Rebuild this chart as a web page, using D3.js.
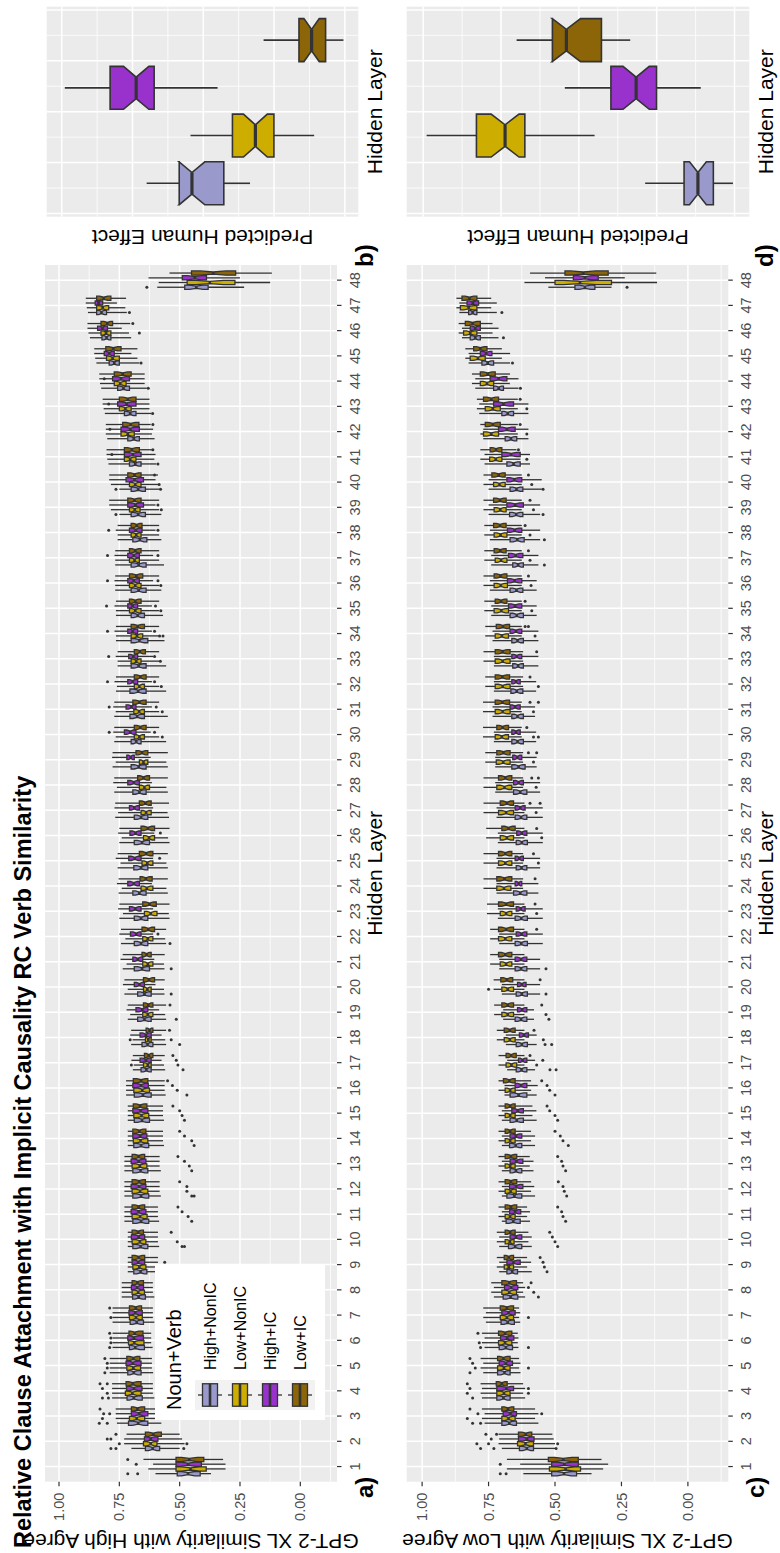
<!DOCTYPE html>
<html><head><meta charset="utf-8">
<script src="https://cdn.jsdelivr.net/npm/d3@7"></script>
<style>body{margin:0;background:#fff} text{font-family:"Liberation Sans",Arial,Helvetica,sans-serif}</style>
</head><body>
<script>
// ---------------- DATA ----------------
const layers = [1,2,3,4,5,6,7,8,9,10,11,12,13,14,15,16,17,18,19,20,21,22,23,24,25,26,27,28,29,30,31,32,33,34,35,36,37,38,39,40,41,42,43,44,45,46,47,48];
const groups = ["High+NonIC","Low+NonIC","High+IC","Low+IC"];
const valueBreaks = [0, 0.25, 0.5, 0.75, 1];
const valueTickLabels = ["0.00","0.25","0.50","0.75","1.00"];
const valueMinorBreaks = [-0.125, 0.125, 0.375, 0.625, 0.875];
const title = "Relative Clause Attachment with Implicit Causality RC Verb Similarity";
const legendTitle = "Noun+Verb";
const xTitle = "Hidden Layer";
const aYTitle = "GPT-2 XL Similarity with High Agree";
const cYTitle = "GPT-2 XL Similarity with Low Agree";
const bdYTitle = "Predicted Human Effect";
const panelTags = ["a)","b)","c)","d)"];

// Panel a (High Agree): per group q3, q1, median, upper whisker, lower whisker by layer
const a_HighNonIC_q3 = [.510,.642,.712,.718,.715,.708,.705,.695,.690,.694,.694,.694,.694,.690,.688,.688,.660,.656,.674,.674,.688,.688,.688,.694,.690,.688,.688,.694,.701,.701,.706,.706,.701,.701,.701,.701,.701,.694,.701,.701,.708,.715,.729,.757,.792,.822,.844,.479];
const a_HighNonIC_q1 = [.415,.583,.632,.655,.660,.646,.650,.642,.636,.632,.628,.628,.632,.628,.625,.618,.618,.611,.618,.618,.625,.632,.632,.639,.632,.625,.632,.639,.639,.660,.646,.639,.639,.632,.646,.639,.639,.636,.642,.642,.660,.667,.681,.708,.750,.785,.803,.382];
const a_HighNonIC_med = [.465,.612,.672,.690,.690,.684,.678,.670,.662,.662,.660,.660,.662,.660,.656,.652,.638,.633,.646,.646,.656,.660,.660,.667,.660,.656,.660,.667,.670,.680,.676,.672,.670,.667,.674,.670,.670,.665,.672,.672,.684,.690,.705,.733,.771,.803,.824,.431];
const a_HighNonIC_hi = [.600,.700,.760,.780,.790,.778,.778,.740,.715,.715,.729,.729,.729,.715,.715,.722,.694,.701,.715,.729,.736,.743,.750,.753,.757,.750,.767,.771,.778,.771,.771,.764,.757,.764,.764,.767,.767,.757,.750,.750,.795,.800,.810,.825,.845,.872,.880,.593];
const a_HighNonIC_lo = [.370,.500,.576,.605,.610,.612,.605,.605,.585,.585,.585,.578,.578,.565,.565,.558,.560,.556,.556,.563,.563,.556,.542,.549,.549,.542,.544,.549,.549,.556,.549,.556,.556,.563,.569,.576,.565,.576,.576,.583,.597,.604,.618,.636,.667,.701,.719,.233];

const a_LowNonIC_q3 = [.515,.650,.708,.725,.719,.712,.708,.697,.694,.697,.697,.697,.697,.692,.690,.690,.650,.642,.653,.650,.653,.653,.646,.660,.656,.650,.660,.667,.667,.688,.690,.688,.701,.701,.708,.708,.708,.701,.708,.708,.729,.743,.750,.771,.803,.826,.844,.469];
const a_LowNonIC_q1 = [.390,.594,.645,.660,.662,.648,.655,.646,.640,.640,.635,.632,.636,.632,.628,.625,.618,.618,.611,.618,.611,.611,.594,.611,.611,.604,.618,.625,.632,.646,.646,.646,.660,.653,.660,.660,.667,.660,.664,.660,.681,.688,.701,.722,.750,.785,.794,.271];
const a_LowNonIC_med = [.455,.620,.678,.696,.692,.688,.681,.672,.667,.665,.664,.664,.665,.662,.658,.655,.632,.630,.632,.634,.632,.632,.620,.636,.634,.627,.639,.646,.650,.667,.668,.667,.680,.677,.684,.684,.687,.680,.686,.684,.705,.715,.725,.746,.778,.805,.819,.375];
const a_LowNonIC_hi = [.630,.730,.765,.780,.790,.778,.778,.740,.715,.715,.729,.729,.729,.715,.715,.722,.690,.695,.705,.715,.720,.725,.735,.740,.745,.740,.755,.760,.765,.765,.765,.760,.757,.764,.764,.767,.767,.757,.785,.785,.800,.806,.815,.830,.850,.878,.885,.587];
const a_LowNonIC_lo = [.310,.480,.585,.611,.615,.618,.611,.611,.590,.590,.590,.583,.583,.569,.569,.562,.565,.560,.560,.565,.565,.560,.545,.555,.555,.548,.550,.555,.555,.585,.585,.585,.585,.585,.585,.585,.585,.585,.585,.590,.605,.615,.625,.645,.675,.710,.725,.125];

const a_HighIC_q3 = [.515,.646,.700,.720,.722,.715,.710,.700,.697,.700,.701,.701,.701,.694,.694,.694,.664,.664,.681,.688,.694,.704,.708,.715,.711,.706,.708,.715,.719,.729,.722,.715,.711,.715,.715,.715,.715,.708,.715,.722,.729,.743,.757,.778,.8125,.840,.850,.489];
const a_HighIC_q1 = [.410,.590,.632,.656,.660,.650,.655,.650,.645,.645,.640,.640,.640,.636,.632,.630,.618,.618,.632,.646,.653,.660,.660,.667,.660,.660,.667,.667,.688,.681,.681,.674,.674,.674,.674,.667,.667,.656,.650,.650,.660,.667,.681,.708,.771,.799,.819,.389];
const a_HighIC_med = [.465,.620,.668,.690,.694,.690,.684,.676,.672,.670,.670,.668,.670,.664,.662,.660,.640,.640,.655,.667,.674,.680,.684,.690,.686,.683,.688,.690,.703,.705,.700,.695,.692,.695,.695,.690,.690,.682,.683,.687,.694,.705,.720,.743,.792,.820,.836,.4375];
const a_HighIC_hi = [.610,.730,.765,.780,.790,.778,.778,.740,.715,.715,.729,.729,.729,.715,.715,.722,.700,.705,.720,.735,.745,.750,.755,.760,.765,.755,.770,.775,.780,.775,.775,.770,.765,.770,.770,.770,.770,.765,.792,.792,.803,.806,.819,.833,.854,.882,.889,.629];
const a_HighIC_lo = [.310,.490,.585,.611,.615,.618,.611,.611,.590,.590,.590,.583,.583,.569,.569,.562,.575,.575,.585,.600,.605,.610,.610,.615,.610,.605,.610,.615,.620,.620,.615,.615,.610,.615,.615,.610,.610,.600,.600,.600,.600,.610,.625,.645,.700,.740,.760,.250];

const a_LowIC_q3 = [.515,.642,.700,.722,.719,.710,.708,.697,.697,.697,.697,.697,.697,.694,.692,.692,.646,.639,.650,.650,.656,.656,.653,.664,.667,.660,.667,.674,.681,.688,.694,.688,.688,.701,.708,.708,.708,.701,.715,.715,.729,.736,.750,.771,.806,.826,.844,.451];
const a_LowIC_q1 = [.400,.576,.645,.660,.665,.652,.658,.650,.645,.650,.645,.642,.645,.640,.636,.632,.611,.611,.611,.604,.618,.604,.597,.614,.611,.604,.618,.625,.632,.639,.639,.639,.642,.646,.660,.653,.660,.656,.660,.660,.667,.669,.681,.701,.743,.778,.785,.268];
const a_LowIC_med = [.460,.610,.675,.694,.692,.686,.682,.675,.670,.672,.670,.668,.670,.667,.664,.660,.628,.625,.630,.627,.637,.630,.625,.640,.639,.632,.642,.650,.656,.663,.667,.663,.665,.674,.684,.680,.684,.678,.687,.687,.698,.703,.715,.736,.775,.800,.815,.361];
const a_LowIC_hi = [.650,.720,.765,.780,.790,.778,.778,.740,.715,.715,.729,.729,.729,.715,.715,.722,.694,.701,.715,.729,.736,.743,.750,.753,.757,.750,.767,.771,.778,.771,.771,.764,.757,.764,.764,.767,.767,.757,.792,.792,.803,.806,.819,.833,.854,.882,.889,.542];
const a_LowIC_lo = [.320,.500,.585,.611,.615,.618,.611,.611,.590,.590,.590,.583,.583,.569,.569,.562,.562,.556,.556,.562,.562,.556,.542,.549,.549,.542,.544,.549,.549,.585,.585,.585,.585,.585,.585,.585,.585,.585,.585,.590,.615,.620,.625,.645,.675,.705,.722,.118];

// outliers: [layer, group index, value]
const a_outliers = [[1,3,.715],[1,2,.68],[1,0,.715],[1,0,.674],
 [2,3,.764],[2,2,.80],[2,2,.785],[2,1,.75],[2,0,.785],[2,0,.764],[2,1,.47],[2,0,.483],
 [3,3,.83],[3,2,.815],[3,2,.79],[3,1,.82],[3,0,.833],[3,0,.80],
 [4,3,.83],[4,3,.80],[4,2,.82],[4,1,.80],[4,0,.82],[4,0,.795],
 [5,3,.81],[5,2,.80],[5,1,.80],[5,0,.81],[6,3,.79],[6,2,.785],[6,1,.785],[6,0,.79],[7,3,.79],[7,1,.785],
 [9,2,.562],[9,0,.528],[10,3,.535],[10,1,.51],[10,0,.48],[10,0,.49],
 [11,3,.507],[11,2,.49],[11,1,.465],[11,0,.45],[12,3,.50],[12,2,.47],[12,1,.47],[12,0,.44],[12,0,.45],
 [13,3,.507],[13,2,.48],[13,1,.46],[13,0,.45],[14,3,.50],[14,2,.48],[14,1,.45],[14,0,.44],
 [15,3,.528],[15,2,.50],[15,1,.49],[15,0,.48],[16,3,.55],[16,2,.53],[16,1,.51],[16,0,.47],
 [17,3,.528],[17,2,.514],[17,1,.507],[17,0,.486],[17,1,.70],[18,3,.542],[18,1,.535],[18,0,.50],[18,1,.705],
 [19,3,.54],[19,0,.514],[20,0,.535],[21,0,.535],[22,2,.59],[22,0,.54],[25,2,.583],[26,2,.58],
 [30,2,.792],[30,2,.604],[30,1,.572],[31,2,.792],[31,2,.597],[31,1,.572],[32,2,.799],[32,2,.604],[32,1,.576],
 [33,2,.794],[33,2,.604],[33,1,.58],[34,2,.799],[34,2,.604],[34,1,.583],[34,1,.569],
 [35,2,.803],[35,2,.60],[35,1,.578],[36,2,.799],[36,2,.59],[36,1,.578],[37,2,.799],[37,2,.59],
 [38,2,.794],[38,2,.59],[39,0,.764],[39,2,.59],[39,1,.576],[40,0,.764],[40,3,.604],[40,1,.585],[40,0,.579],
 [41,2,.781],[41,3,.611],[41,0,.59],[42,2,.789],[42,3,.611],[43,2,.794],[43,0,.612],[44,2,.8125],[44,0,.63],
 [45,0,.66],[46,3,.694],[46,1,.667],[47,0,.708],[48,0,.636]];

// Panel c (Low Agree)
const c_HighNonIC_q3 = [.5125,.634,.700,.719,.716,.710,.703,.695,.681,.675,.684,.681,.669,.671,.669,.669,.646,.646,.650,.646,.650,.650,.650,.656,.646,.646,.650,.656,.6625,.6625,.6625,.666,.659,.6625,.669,.669,.659,.669,.671,.669,.681,.6875,.700,.731,.775,.819,.825,.425];
const c_HighNonIC_q1 = [.419,.581,.645,.669,.669,.660,.653,.640,.641,.625,.631,.625,.625,.625,.619,.606,.606,.604,.606,.604,.606,.604,.604,.606,.606,.604,.606,.606,.6125,.619,.619,.621,.619,.619,.619,.621,.619,.616,.621,.621,.631,.644,.656,.694,.731,.781,.794,.350];
const c_HighNonIC_med = [.466,.606,.672,.694,.690,.685,.678,.667,.661,.650,.657,.653,.647,.648,.644,.637,.626,.625,.628,.625,.628,.627,.627,.631,.626,.625,.628,.631,.637,.641,.641,.644,.639,.641,.644,.645,.639,.642,.646,.645,.656,.666,.678,.712,.753,.800,.810,.3875];
const c_HighNonIC_hi = [.619,.700,.765,.775,.770,.765,.760,.730,.710,.710,.700,.700,.700,.700,.700,.690,.680,.685,.695,.700,.710,.710,.715,.720,.720,.715,.720,.725,.725,.730,.735,.730,.730,.735,.740,.745,.740,.745,.750,.750,.765,.770,.785,.800,.825,.850,.860,.525];
const c_HighNonIC_lo = [.3625,.500,.5625,.6125,.630,.6375,.631,.6125,.5875,.5875,.594,.575,.581,.575,.569,.569,.575,.569,.579,.556,.556,.546,.546,.5625,.556,.546,.546,.556,.569,.571,.575,.571,.5625,.5625,.569,.569,.5625,.556,.556,.550,.594,.600,.600,.6375,.669,.7125,.719,.2875];

const c_LowNonIC_q3 = [.521,.641,.700,.719,.716,.7125,.706,.700,.691,.6875,.6875,.6875,.6875,.6875,.6875,.6875,.684,.691,.700,.700,.706,.7125,.706,.719,.7125,.706,.7125,.719,.721,.725,.725,.725,.725,.725,.729,.729,.725,.729,.729,.731,.746,.769,.7625,.781,.819,.844,.856,.500];
const c_LowNonIC_q1 = [.404,.581,.650,.669,.669,.6625,.656,.645,.656,.654,.650,.646,.650,.650,.650,.650,.644,.650,.656,.656,.6625,.6625,.6625,.666,.6625,.656,.656,.6625,.669,.675,.669,.669,.669,.675,.675,.679,.681,.681,.684,.6875,.700,.7125,.706,.731,.7625,.794,.794,.2875];
const c_LowNonIC_med = [.460,.611,.675,.692,.692,.688,.681,.672,.674,.670,.669,.667,.669,.669,.669,.669,.664,.670,.678,.678,.684,.687,.684,.692,.687,.681,.684,.690,.695,.700,.697,.697,.697,.700,.702,.704,.703,.705,.706,.709,.723,.740,.734,.756,.790,.819,.825,.406];
const c_LowNonIC_hi = [.681,.7125,.775,.780,.780,.775,.770,.740,.719,.719,.7125,.7125,.7125,.7125,.7125,.7125,.7125,.719,.729,.731,.744,.744,.756,.769,.769,.759,.769,.769,.7625,.771,.771,.7625,.769,.7625,.766,.769,.766,.766,.769,.769,.781,.781,.794,.8125,.8375,.8625,.871,.615];
const c_LowNonIC_lo = [.319,.500,.575,.620,.635,.640,.635,.620,.605,.600,.605,.590,.595,.590,.585,.590,.615,.615,.615,.615,.615,.615,.615,.620,.620,.615,.615,.620,.620,.625,.625,.620,.620,.625,.625,.625,.625,.625,.625,.625,.630,.640,.640,.670,.700,.735,.740,.116];

const c_HighIC_q3 = [.5125,.6375,.695,.719,.710,.705,.700,.690,.681,.669,.671,.671,.669,.669,.6625,.650,.6375,.634,.641,.641,.650,.646,.646,.650,.650,.644,.650,.656,.659,.6625,.669,.6625,.6625,.669,.675,.679,.675,.679,.681,.681,.700,.7125,.731,.744,.781,.819,.831,.431];
const c_HighIC_q1 = [.4125,.579,.645,.656,.660,.655,.650,.640,.631,.625,.629,.621,.621,.625,.619,.606,.606,.600,.606,.609,.606,.606,.6125,.625,.619,.606,.6125,.619,.625,.631,.631,.631,.625,.625,.625,.625,.621,.625,.619,.625,.631,.650,.656,.681,.7375,.781,.7875,.3375];
const c_HighIC_med = [.465,.606,.668,.683,.685,.680,.675,.665,.656,.647,.650,.646,.645,.647,.640,.628,.622,.617,.624,.625,.628,.626,.629,.637,.634,.625,.631,.637,.642,.647,.650,.647,.644,.647,.650,.652,.648,.652,.650,.653,.665,.681,.694,.712,.759,.800,.809,.3875];
const c_HighIC_hi = [.631,.710,.765,.775,.770,.765,.760,.730,.710,.710,.700,.700,.700,.700,.700,.690,.680,.685,.695,.700,.710,.710,.715,.720,.720,.715,.720,.725,.725,.730,.735,.730,.730,.735,.740,.745,.740,.745,.750,.750,.765,.770,.785,.800,.825,.850,.860,.5375];
const c_HighIC_lo = [.300,.505,.5625,.6125,.630,.6375,.631,.6125,.590,.5875,.594,.578,.581,.575,.570,.565,.575,.569,.579,.556,.556,.546,.546,.5625,.556,.546,.546,.556,.569,.571,.575,.571,.5625,.5625,.569,.569,.5625,.556,.556,.550,.594,.600,.600,.6375,.669,.7125,.719,.2375];

const c_LowIC_q3 = [.525,.6375,.700,.721,.716,.7125,.706,.700,.691,.6875,.6875,.6875,.6875,.6875,.6875,.694,.684,.691,.700,.704,.7125,.7125,.7125,.719,.7125,.700,.706,.7125,.719,.719,.725,.725,.725,.721,.725,.729,.729,.731,.731,.7375,.744,.7625,.769,.781,.806,.8375,.850,.4625];
const c_LowIC_q1 = [.4125,.5875,.655,.680,.669,.6625,.656,.645,.656,.650,.644,.644,.644,.650,.650,.650,.646,.650,.656,.659,.6625,.656,.656,.6625,.6625,.650,.656,.6625,.669,.675,.671,.671,.669,.671,.681,.681,.684,.684,.684,.6875,.700,.706,.7125,.725,.756,.781,.794,.300];
const c_LowIC_med = [.469,.610,.677,.700,.694,.688,.681,.672,.674,.669,.666,.666,.666,.669,.669,.672,.665,.670,.678,.681,.687,.684,.684,.690,.687,.675,.681,.687,.694,.697,.698,.698,.697,.696,.703,.705,.706,.707,.707,.712,.722,.734,.740,.753,.781,.810,.822,.394];
const c_LowIC_hi = [.681,.7125,.775,.780,.780,.775,.770,.740,.719,.719,.7125,.7125,.7125,.7125,.7125,.7125,.7125,.719,.729,.731,.744,.744,.756,.769,.769,.759,.769,.769,.7625,.771,.771,.7625,.769,.7625,.766,.769,.766,.766,.769,.769,.781,.781,.794,.8125,.8375,.8625,.871,.594];
const c_LowIC_lo = [.325,.510,.575,.620,.635,.640,.635,.620,.605,.600,.605,.590,.595,.590,.585,.590,.615,.615,.615,.615,.615,.615,.615,.620,.620,.615,.615,.620,.620,.625,.625,.620,.620,.625,.625,.625,.625,.625,.625,.625,.645,.640,.640,.670,.700,.735,.740,.119];

const c_outliers = [[1,2,.706],[1,0,.706],[1,0,.684],
 [2,3,.76],[2,3,.72],[2,2,.74],[2,1,.794],[2,1,.75],[2,0,.78],[2,0,.73],[2,0,.496],[2,1,.49],
 [3,3,.82],[3,2,.79],[3,1,.83],[3,0,.81],[3,0,.78],[3,2,.55],
 [4,3,.83],[4,2,.82],[4,1,.83],[4,0,.81],[4,2,.60],[4,1,.60],
 [5,3,.82],[5,2,.81],[5,1,.80],[5,0,.82],[5,1,.60],[6,3,.79],[6,1,.785],[6,0,.78],[6,0,.60],[7,1,.60],
 [8,2,.60],[8,1,.58],[8,0,.5625],[8,3,.59],[9,3,.556],[9,2,.545],[9,1,.54],[9,0,.53],
 [10,3,.52],[10,2,.51],[10,1,.50],[10,0,.49],[11,3,.49],[11,2,.475],[11,1,.47],[11,0,.46],
 [12,3,.4875],[12,2,.47],[12,1,.465],[12,0,.456],[13,3,.49],[13,2,.475],[13,1,.47],[13,0,.46],
 [14,3,.50],[14,2,.48],[14,1,.47],[14,0,.45],[15,3,.53],[15,2,.52],[15,1,.50],[15,0,.49],
 [16,3,.55],[16,2,.53],[16,1,.52],[16,0,.50],
 [17,3,.594],[17,1,.569],[17,2,.546],[17,0,.519],[17,0,.496],[18,3,.579],[18,1,.544],[18,0,.5375],[18,0,.5125],
 [19,3,.55],[19,1,.534],[19,0,.523],[20,3,.556],[20,0,.534],[20,1,.75],[21,0,.534],[22,3,.569],
 [23,3,.575],[23,1,.569],[24,3,.575],[25,3,.581],[25,1,.5625],[26,3,.569],[26,1,.55],
 [27,3,.594],[27,1,.571],[27,3,.556],[28,3,.5875],[28,1,.571],[28,3,.5625],[29,3,.60],[29,1,.581],[29,3,.569],
 [30,3,.606],[30,1,.581],[30,1,.5625],[31,3,.594],[31,1,.581],[31,3,.5625],[32,3,.594],[32,1,.5625],[33,3,.569],
 [34,3,.6125],[34,3,.60],[34,1,.575],[35,3,.6125],[35,1,.5875],[36,3,.60],[36,1,.59],
 [37,3,.60],[37,1,.594],[37,0,.54],[38,3,.6125],[38,1,.594],[38,0,.54],[39,3,.594],[39,1,.581],[39,0,.545],
 [40,3,.60],[40,1,.5875],[40,0,.545],[41,3,.6375],[41,1,.606],[42,3,.631],[42,1,.606],[43,3,.631],[43,1,.606],
 [44,0,.63],[45,0,.66],[46,0,.694],[47,0,.70],[48,0,.229]];

// Panels b and d: [lower whisker, q1, median, q3, upper whisker] per group
const b_stats = [[-0.033,-0.0145,0.008,0.017,0.040],[-0.0783,-0.0499,-0.0368,-0.0206,0.009],[-0.0101,0.0347,0.0474,0.0658,0.0978],[-0.099,-0.0864,-0.0765,-0.0676,-0.0426]];
const d_stats = [[-0.099,-0.0864,-0.0765,-0.0676,-0.0426],[-0.0101,0.0347,0.0474,0.0658,0.0978],[-0.0783,-0.0499,-0.0368,-0.0206,0.009],[-0.033,-0.0145,0.008,0.017,0.040]];
const bdPosition = 1;
const bdValueBreaks = [-0.1,-0.05,0,0.05,0.1];
const bdValueMinor = [-0.075,-0.025,0.025,0.075];
const bdXBreaks = [0.6,0.8,1.0,1.2,1.4];
const bdXMinor = [0.7,0.9,1.1,1.3];
const nObs = 30;

// ---------------- STYLE ----------------
const fills = ["#9999CC","#CDAD00","#9932CC","#8B6508"];
const ink = "#333333";
const LW = 1.3;

const svg = d3.select("body").append("svg").attr("width",780).attr("height",1553);
svg.append("rect").attr("width",780).attr("height",1553).attr("fill","#fff");
// landscape figure 1553 x 780, rotated 90deg counter-clockwise
const fig = svg.append("g").attr("transform","translate(0,1553) rotate(-90)");

function drawBox(g, cx, w, s, y, lw) {
  const [lo,q1,med,q3,hi,fill] = s;
  const notch = 1.58*(q3-q1)/Math.sqrt(nObs);
  const xmin = cx - w/2, xmax = cx + w/2, ind = w*0.25;
  g.append("line").attr("x1",cx).attr("x2",cx).attr("y1",y(q3)).attr("y2",y(hi)).attr("stroke",ink).attr("stroke-width",lw);
  g.append("line").attr("x1",cx).attr("x2",cx).attr("y1",y(q1)).attr("y2",y(lo)).attr("stroke",ink).attr("stroke-width",lw);
  const pts = [[xmin,y(q3)],[xmin,y(med+notch)],[xmin+ind,y(med)],[xmin,y(med-notch)],[xmin,y(q1)],
               [xmax,y(q1)],[xmax,y(med-notch)],[xmax-ind,y(med)],[xmax,y(med+notch)],[xmax,y(q3)]];
  g.append("path").attr("d", d3.line()(pts)+"Z").attr("fill",fill).attr("stroke",ink).attr("stroke-width",lw).attr("stroke-linejoin","miter");
  g.append("line").attr("x1",xmin+ind).attr("x2",xmax-ind).attr("y1",y(med)).attr("y2",y(med)).attr("stroke",ink).attr("stroke-width",lw*2);
}

function drawMain(P) {
  const g = fig.append("g");
  const x = d3.scalePoint().domain(layers).range([P.x0,P.x1]).padding(0.6);
  const y = d3.scaleLinear().domain([-0.152,1.058]).range([P.y1,P.y0]);
  const step = x.step();
  g.append("rect").attr("x",P.x0).attr("y",P.y0).attr("width",P.x1-P.x0).attr("height",P.y1-P.y0).attr("fill","#EBEBEB");
  valueMinorBreaks.forEach(v=>g.append("line").attr("x1",P.x0).attr("x2",P.x1).attr("y1",y(v)).attr("y2",y(v)).attr("stroke","#fff").attr("stroke-width",0.8));
  valueBreaks.forEach(v=>g.append("line").attr("x1",P.x0).attr("x2",P.x1).attr("y1",y(v)).attr("y2",y(v)).attr("stroke","#fff").attr("stroke-width",1.5));
  layers.forEach(l=>g.append("line").attr("x1",x(l)).attr("x2",x(l)).attr("y1",P.y0).attr("y2",P.y1).attr("stroke","#fff").attr("stroke-width",1.5));
  const slot = 0.75*step/4, bw = slot*0.9;
  const outG = g.append("g");
  layers.forEach((l,i)=>{
    P.stats.forEach((st,gi)=>{
      const cx = x(l) + (gi-1.5)*slot;
      drawBox(g, cx, bw, [st.lo[i],st.q1[i],st.med[i],st.q3[i],st.hi[i],fills[gi]], y, LW);
    });
  });
  P.outliers.forEach(([l,gi,v])=>{
    outG.append("circle").attr("cx",x(l)+(gi-1.5)*slot).attr("cy",y(v)).attr("r",1.5).attr("fill",ink);
  });
  valueBreaks.forEach((v,i)=>{
    g.append("line").attr("x1",P.x0-4.5).attr("x2",P.x0).attr("y1",y(v)).attr("y2",y(v)).attr("stroke",ink).attr("stroke-width",1.2);
    g.append("text").attr("x",P.x0-11).attr("y",y(v)).attr("dy","0.35em").attr("text-anchor","end")
      .attr("font-size",14.5).attr("fill","#4D4D4D").text(valueTickLabels[i]);
  });
  layers.forEach(l=>{
    g.append("line").attr("x1",x(l)).attr("x2",x(l)).attr("y1",P.y1).attr("y2",P.y1+4.5).attr("stroke",ink).attr("stroke-width",1.2);
    g.append("text").attr("x",x(l)).attr("y",P.y1+23).attr("text-anchor","middle").attr("font-size",14.5).attr("fill","#4D4D4D").text(l);
  });
  g.append("text").attr("x",(P.x0+P.x1)/2).attr("y",P.y1+45).attr("text-anchor","middle").attr("font-size",21).attr("fill","#000").text(xTitle);
  g.append("text").attr("transform",`translate(19,${(P.y0+P.y1)/2}) rotate(-90)`).attr("text-anchor","middle").attr("font-size",21).attr("fill","#000").text(P.yTitle);
  g.append("text").attr("x",55).attr("y",P.y1+36).attr("font-size",24).attr("font-weight","bold").text(P.tag);
}

function drawSide(P) {
  const g = fig.append("g");
  const x = d3.scaleLinear().domain([0.5875,1.4125]).range([P.x0,P.x1]);
  const y = d3.scaleLinear().domain([-0.1095,0.1106]).range([P.y1,P.y0]);
  g.append("rect").attr("x",P.x0).attr("y",P.y0).attr("width",P.x1-P.x0).attr("height",P.y1-P.y0).attr("fill","#EBEBEB");
  bdValueMinor.forEach(v=>g.append("line").attr("x1",P.x0).attr("x2",P.x1).attr("y1",y(v)).attr("y2",y(v)).attr("stroke","#fff").attr("stroke-width",0.8));
  bdXMinor.forEach(v=>g.append("line").attr("x1",x(v)).attr("x2",x(v)).attr("y1",P.y0).attr("y2",P.y1).attr("stroke","#fff").attr("stroke-width",0.8));
  bdValueBreaks.forEach(v=>g.append("line").attr("x1",P.x0).attr("x2",P.x1).attr("y1",y(v)).attr("y2",y(v)).attr("stroke","#fff").attr("stroke-width",1.5));
  bdXBreaks.forEach(v=>g.append("line").attr("x1",x(v)).attr("x2",x(v)).attr("y1",P.y0).attr("y2",P.y1).attr("stroke","#fff").attr("stroke-width",1.5));
  const slotU = 0.75/4;
  P.stats.forEach((s,gi)=>{
    const cxU = bdPosition + (gi-1.5)*slotU;
    const bw = x(slotU*0.9) - x(0);
    drawBox(g, x(cxU), bw, [...s, fills[gi]], y, 1.6);
  });
  g.append("text").attr("x",(P.x0+P.x1)/2).attr("y",P.y1+24).attr("text-anchor","middle").attr("font-size",21).attr("fill","#000").text(xTitle);
  g.append("text").attr("transform",`translate(${P.x0-13},${(P.y0+P.y1)/2}) rotate(-90)`).attr("text-anchor","middle").attr("font-size",21).attr("fill","#000").text(bdYTitle);
  g.append("text").attr("x",1286).attr("y",P.tagY).attr("font-size",24).attr("font-weight","bold").text(P.tag);
}

const statsA = [
 {q3:a_HighNonIC_q3,q1:a_HighNonIC_q1,med:a_HighNonIC_med,hi:a_HighNonIC_hi,lo:a_HighNonIC_lo},
 {q3:a_LowNonIC_q3,q1:a_LowNonIC_q1,med:a_LowNonIC_med,hi:a_LowNonIC_hi,lo:a_LowNonIC_lo},
 {q3:a_HighIC_q3,q1:a_HighIC_q1,med:a_HighIC_med,hi:a_HighIC_hi,lo:a_HighIC_lo},
 {q3:a_LowIC_q3,q1:a_LowIC_q1,med:a_LowIC_med,hi:a_LowIC_hi,lo:a_LowIC_lo}];
const statsC = [
 {q3:c_HighNonIC_q3,q1:c_HighNonIC_q1,med:c_HighNonIC_med,hi:c_HighNonIC_hi,lo:c_HighNonIC_lo},
 {q3:c_LowNonIC_q3,q1:c_LowNonIC_q1,med:c_LowNonIC_med,hi:c_LowNonIC_hi,lo:c_LowNonIC_lo},
 {q3:c_HighIC_q3,q1:c_HighIC_q1,med:c_HighIC_med,hi:c_HighIC_hi,lo:c_HighIC_lo},
 {q3:c_LowIC_q3,q1:c_LowIC_q1,med:c_LowIC_med,hi:c_LowIC_hi,lo:c_LowIC_lo}];

drawMain({x0:71.3,x1:1288,y0:45,y1:337,stats:statsA,outliers:a_outliers,yTitle:aYTitle,tag:panelTags[0]});
drawMain({x0:71.3,x1:1288,y0:406.7,y1:728.3,stats:statsC,outliers:c_outliers,yTitle:cYTitle,tag:panelTags[2]});
drawSide({x0:1336.3,x1:1546.3,y0:46.7,y1:358.3,stats:b_stats,tag:panelTags[1],tagY:373});
drawSide({x0:1336.3,x1:1546.3,y0:406.7,y1:749.3,stats:d_stats,tag:panelTags[3],tagY:773});

// legend (inside panel a)
const lg = fig.append("g");
lg.append("rect").attr("x",133).attr("y",155).attr("width",155).attr("height",170).attr("fill","#fff");
lg.append("text").attr("x",143).attr("y",181).attr("font-size",20).text(legendTitle);
groups.forEach((name,i)=>{
  const ky = 195 + i*30, kx = 143, ks = 30;
  lg.append("rect").attr("x",kx).attr("y",ky).attr("width",ks).attr("height",ks).attr("fill","#F2F2F2");
  lg.append("line").attr("x1",kx+ks/2).attr("x2",kx+ks/2).attr("y1",ky+ks*0.1).attr("y2",ky+ks*0.9).attr("stroke",ink).attr("stroke-width",LW);
  lg.append("rect").attr("x",kx+ks*0.125).attr("y",ky+ks*0.25).attr("width",ks*0.75).attr("height",ks*0.5).attr("fill",fills[i]).attr("stroke",ink).attr("stroke-width",LW);
  lg.append("line").attr("x1",kx+ks*0.125).attr("x2",kx+ks*0.875).attr("y1",ky+ks/2).attr("y2",ky+ks/2).attr("stroke",ink).attr("stroke-width",LW*2);
  lg.append("text").attr("x",183).attr("y",ky+ks/2).attr("dy","0.35em").attr("font-size",16).text(name);
});

// title
fig.append("text").attr("x",5).attr("y",31).attr("font-size",23.5).attr("font-weight","bold").text(title);
</script>
</body></html>
